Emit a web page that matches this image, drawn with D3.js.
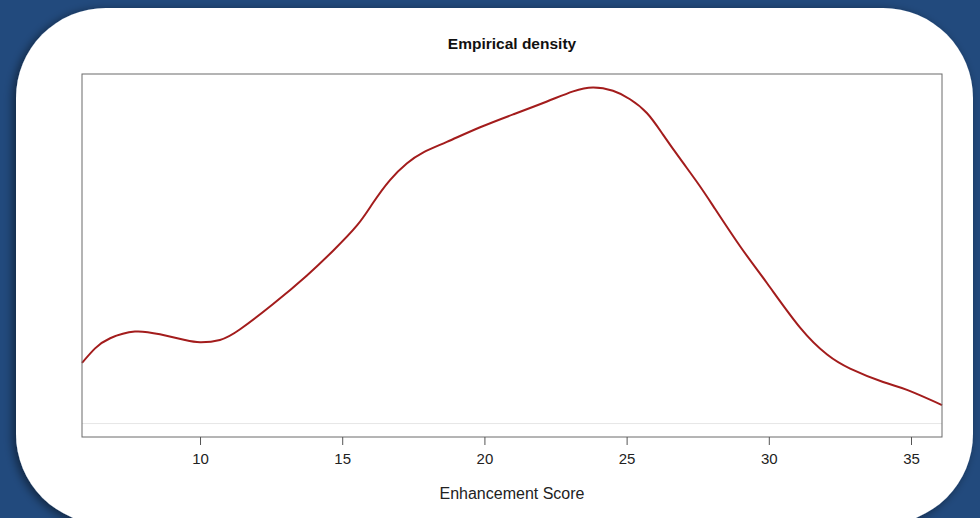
<html>
<head>
<script src="https://d3js.org/d3.v7.min.js"></script>
<style>
body { margin: 0; background: #224a7d; }
svg { display: block; }
</style>
</head>
<body>
<svg id="chart" width="980" height="518"></svg>
<script>
// density estimate
var scores = [5.85, 6.31, 6.84, 7.71, 8.59, 9.47, 10.0, 10.70, 11.41, 12.57, 13.76, 14.68, 15.52, 16.08, 16.68, 17.28, 17.84, 18.68, 19.85, 21.01, 22.20, 23.12, 23.82, 24.52, 25.12, 25.72, 26.28, 26.88, 27.48, 28.04, 28.99, 29.94, 31.10, 32.05, 32.86, 34.02, 34.86, 36.09];
var density = [0.0108, 0.0134, 0.0152, 0.0164, 0.0159, 0.0149, 0.0145, 0.0149, 0.0168, 0.0213, 0.0264, 0.0308, 0.0353, 0.0393, 0.0434, 0.0464, 0.0483, 0.0502, 0.0528, 0.0551, 0.0574, 0.0592, 0.0599, 0.0593, 0.0578, 0.0553, 0.0515, 0.0472, 0.0430, 0.0388, 0.0316, 0.0250, 0.0171, 0.0123, 0.0098, 0.0074, 0.0060, 0.0033];
var xTicks = [10, 15, 20, 25, 30, 35];

var svg = d3.select("#chart");
var font = "'Liberation Sans', Arial, Helvetica, sans-serif";

var defs = svg.append("defs");
var f = defs.append("filter").attr("id", "shadow")
  .attr("x", "-10%").attr("y", "-10%").attr("width", "120%").attr("height", "120%");
f.append("feDropShadow").attr("dx", -3).attr("dy", 2).attr("stdDeviation", 5)
  .attr("flood-color", "#000").attr("flood-opacity", 0.5);

// white panel
svg.append("rect")
  .attr("x", 16).attr("y", 8).attr("width", 957).attr("height", 516)
  .attr("rx", 90).attr("ry", 90)
  .attr("fill", "#fff")
  .attr("filter", "url(#shadow)");

var pLeft = 82, pRight = 942, pTop = 74, pBottom = 437;

var x = d3.scaleLinear().domain([5.85, 36.09]).range([pLeft, pRight]);
var maxD = d3.max(density);
var pad = maxD * 0.04;
var y = d3.scaleLinear().domain([-pad, maxD + pad]).range([pBottom, pTop]);

// zero line
svg.append("line")
  .attr("x1", pLeft).attr("x2", pRight)
  .attr("y1", y(0)).attr("y2", y(0))
  .attr("stroke", "#e6e6e6").attr("stroke-width", 1);

var line = d3.line()
  .x(function (d, i) { return x(scores[i]); })
  .y(function (d) { return y(d); })
  .curve(d3.curveNatural);

svg.append("path")
  .datum(density)
  .attr("d", line)
  .attr("fill", "none")
  .attr("stroke", "#a31c1c")
  .attr("stroke-width", 2);

// frame
svg.append("rect")
  .attr("x", pLeft).attr("y", pTop)
  .attr("width", pRight - pLeft).attr("height", pBottom - pTop)
  .attr("fill", "none").attr("stroke", "#6a6a6a").attr("stroke-width", 1);

var xAxis = d3.axisBottom(x).tickValues(xTicks).tickSize(8).tickPadding(8);
var gx = svg.append("g").attr("transform", "translate(0," + pBottom + ")").call(xAxis);
gx.select(".domain").remove();
gx.selectAll(".tick line").attr("stroke", "#555");
gx.selectAll(".tick text")
  .attr("font-family", font).attr("font-size", 15).attr("fill", "#222");

svg.append("text")
  .attr("x", 512).attr("y", 49)
  .attr("text-anchor", "middle")
  .attr("font-family", font).attr("font-size", 15.5).attr("font-weight", "bold")
  .attr("fill", "#111")
  .text("Empirical density");

svg.append("text")
  .attr("x", 512).attr("y", 499)
  .attr("text-anchor", "middle")
  .attr("font-family", font).attr("font-size", 16)
  .attr("fill", "#222")
  .text("Enhancement Score");
</script>
</body>
</html>
